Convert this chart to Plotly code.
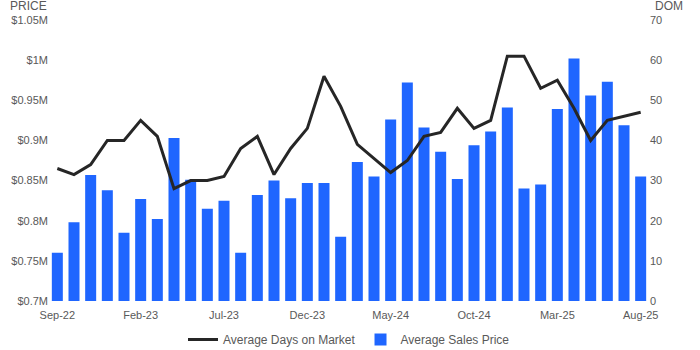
import plotly.graph_objects as go

months = [
    "Sep-22", "Oct-22", "Nov-22", "Dec-22", "Jan-23", "Feb-23", "Mar-23", "Apr-23",
    "May-23", "Jun-23", "Jul-23", "Aug-23", "Sep-23", "Oct-23", "Nov-23", "Dec-23",
    "Jan-24", "Feb-24", "Mar-24", "Apr-24", "May-24", "Jun-24", "Jul-24", "Aug-24",
    "Sep-24", "Oct-24", "Nov-24", "Dec-24", "Jan-25", "Feb-25", "Mar-25", "Apr-25",
    "May-25", "Jun-25", "Jul-25", "Aug-25",
]

avg_sales_price = [
    760000, 798000, 857000, 838000, 785000, 827000, 802000, 903000,
    851000, 815000, 825000, 760000, 832000, 850000, 828000, 847000,
    847000, 780000, 873000, 855000, 926000, 972000, 916000, 886000,
    852000, 894000, 911000, 941000, 840000, 845000, 939000, 1002000,
    956000, 973000, 919000, 855000,
]

avg_days_on_market = [
    33, 31.5, 34, 40, 40, 45, 41, 28,
    30, 30, 31, 38, 41, 31.5, 38, 43,
    56, 48.5, 39, 35.5, 32, 35, 41, 42,
    48, 43, 45, 61, 61, 53, 55, 48,
    40, 45, 46, 47,
]

x_ticks = ["Sep-22", "Feb-23", "Jul-23", "Dec-23", "May-24", "Oct-24", "Mar-25", "Aug-25"]

price_ticks = [700000, 750000, 800000, 850000, 900000, 950000, 1000000, 1050000]
price_tick_text = ["$0.7M", "$0.75M", "$0.8M", "$0.85M", "$0.9M", "$0.95M", "$1M", "$1.05M"]

dom_ticks = [0, 10, 20, 30, 40, 50, 60, 70]

TEXT = "#595959"
FONT = "Liberation Sans, Arial, sans-serif"

fig = go.Figure()

fig.add_trace(go.Bar(
    x=months, y=avg_sales_price, name="Average Sales Price",
    marker=dict(color="#1F66FF", line=dict(width=0)),
    yaxis="y", legendrank=2,
))

fig.add_trace(go.Scatter(
    x=months, y=avg_days_on_market, name="Average Days on Market",
    mode="lines", line=dict(color="#262626", width=3),
    yaxis="y2", legendrank=1,
))

fig.update_layout(
    width=700, height=350,
    margin=dict(l=49, r=51, t=20, b=49, autoexpand=False),
    paper_bgcolor="white", plot_bgcolor="white",
    font=dict(family=FONT, size=11, color=TEXT),
    bargap=0.34,
    showlegend=True,
    legend=dict(
        orientation="h", x=0.5, xanchor="center",
        yref="container", y=0.03, yanchor="middle",
        font=dict(size=12, color=TEXT), itemwidth=30,
    ),
    xaxis=dict(
        type="category", categoryorder="array", categoryarray=months,
        tickmode="array", tickvals=x_ticks, ticktext=x_ticks,
        showgrid=False, showline=False, zeroline=False, ticks="",
        ticklabelstandoff=6,
        tickfont=dict(size=11, color=TEXT),
    ),
    yaxis=dict(
        range=[700000, 1050000], tickmode="array",
        tickvals=price_ticks, ticktext=price_tick_text,
        showgrid=False, showline=False, zeroline=False, ticks="",
        tickfont=dict(size=11, color=TEXT),
    ),
    yaxis2=dict(
        range=[0, 70], tickmode="array", tickvals=dom_ticks,
        overlaying="y", side="right",
        showgrid=False, showline=False, zeroline=False, ticks="",
        tickfont=dict(size=11, color=TEXT),
    ),
    annotations=[
        dict(text="PRICE", xref="paper", yref="paper", x=-0.068, y=1.05,
             xanchor="left", yanchor="middle", showarrow=False,
             font=dict(size=12, color=TEXT)),
        dict(text="DOM", xref="paper", yref="paper", x=1.006, y=1.05,
             xanchor="left", yanchor="middle", showarrow=False,
             font=dict(size=12, color=TEXT)),
    ],
)

fig.write_html("out.html")
